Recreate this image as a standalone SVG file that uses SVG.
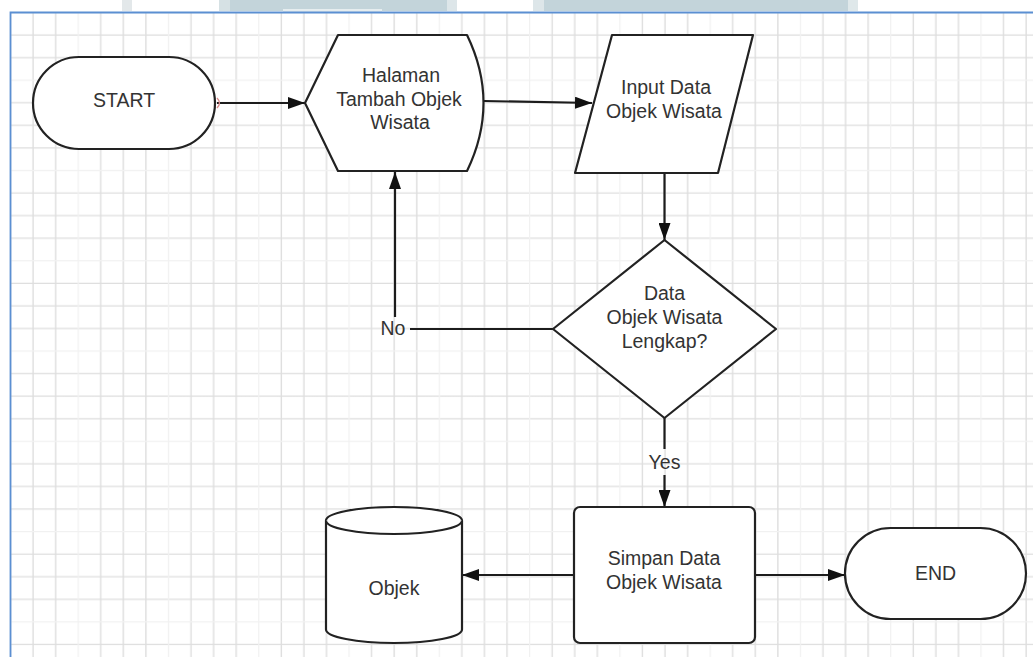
<svg xmlns="http://www.w3.org/2000/svg" width="1033" height="657" viewBox="0 0 1033 657">
  <defs>
    <style>
      .shape { fill: #ffffff; stroke: #222222; stroke-width: 2.2; stroke-linejoin: round; }
      .edge { fill: none; stroke: #1c1c1c; stroke-width: 2.2; }
      .arrow { marker-end: url(#head); }
      .label { font-family: "Liberation Sans", Arial, sans-serif; font-size: 19.5px; fill: #333333; text-anchor: middle; }
      .band { stroke: none; }
    </style>
    <!-- canvas grid: three visible lines and one faint line per 4-cell tile -->
    <pattern id="grid" patternUnits="userSpaceOnUse" x="-0.785" y="1.215" width="90.28" height="90.28">
      <g stroke="#dedede" stroke-width="1.4">
        <line x1="11.285" y1="0" x2="11.285" y2="90.28"/>
        <line x1="33.855" y1="0" x2="33.855" y2="90.28"/>
        <line x1="56.425" y1="0" x2="56.425" y2="90.28"/>
        <line x1="0" y1="11.285" x2="90.28" y2="11.285"/>
        <line x1="0" y1="33.855" x2="90.28" y2="33.855"/>
        <line x1="0" y1="56.425" x2="90.28" y2="56.425"/>
      </g>
      <g stroke="#f1f1f1" stroke-width="1.2">
        <line x1="78.995" y1="0" x2="78.995" y2="90.28"/>
        <line x1="0" y1="78.995" x2="90.28" y2="78.995"/>
      </g>
    </pattern>
    <marker id="head" markerUnits="userSpaceOnUse" markerWidth="17" markerHeight="12" refX="17" refY="6" orient="auto">
      <path d="M0,0 L17,6 L0,12 Z" fill="#111111"/>
    </marker>
  </defs>

  <!-- page background and toolbar strip -->
  <rect x="0" y="0" width="1033" height="657" fill="#ffffff"/>
  <g id="toolbar">
    <rect class="band" x="122" y="0" width="10" height="11" fill="#e3e8ea"/>
    <rect class="band" x="219" y="0" width="11" height="11" fill="#d6e1e4"/>
    <rect class="band" x="230" y="0" width="217" height="11" fill="#c3d4da"/>
    <rect class="band" x="283" y="9" width="99" height="3" fill="#e6edef"/>
    <rect class="band" x="447" y="0" width="10" height="11" fill="#dde6e9"/>
    <rect class="band" x="533" y="0" width="11" height="11" fill="#dde6e9"/>
    <rect class="band" x="544" y="0" width="304" height="11" fill="#c3d4da"/>
    <rect class="band" x="848" y="0" width="10" height="11" fill="#dfe8ea"/>
  </g>

  <!-- drawing canvas -->
  <rect x="10.5" y="12.5" width="1023" height="645" fill="url(#grid)"/>
  <path d="M10.5,657 L10.5,12.5 L1033,12.5" fill="none" stroke="#5b8fd2" stroke-width="1.8"/>

  <!-- connectors -->
  <g id="connectors">
    <line class="edge arrow" x1="217" y1="103" x2="305" y2="103"/>
    <line class="edge arrow" x1="484" y1="101" x2="592" y2="103"/>
    <line class="edge arrow" x1="664.5" y1="173" x2="664.5" y2="240"/>
    <polyline class="edge" points="553,329 410,329"/>
    <line class="edge arrow" x1="395" y1="317" x2="395" y2="172"/>
    <line class="edge" x1="664.5" y1="418" x2="664.5" y2="449"/>
    <line class="edge arrow" x1="664.5" y1="475" x2="664.5" y2="507"/>
    <line class="edge arrow" x1="574" y1="575" x2="462" y2="575"/>
    <line class="edge arrow" x1="755" y1="575" x2="845" y2="575"/>
    <path d="M217,98 Q222,103 217,108" fill="none" stroke="#d98a8a" stroke-width="1.3"/>
    <text class="label" x="393" y="335">No</text>
    <text class="label" x="664.5" y="469">Yes</text>
  </g>

  <!-- nodes -->
  <g id="start">
    <rect class="shape" x="33" y="57" width="182" height="92" rx="46" ry="46"/>
    <text class="label" x="124" y="107">START</text>
  </g>

  <g id="halaman-tambah">
    <path class="shape" d="M305,103 L338,35 L467,35 Q500,103 467,171 L338,171 Z"/>
    <text class="label" x="401" y="82">Halaman</text>
    <text class="label" x="399" y="105.5">Tambah Objek</text>
    <text class="label" x="400" y="129">Wisata</text>
  </g>

  <g id="input-data">
    <path class="shape" d="M612,35 L753,35 L718,173 L575,173 Z"/>
    <text class="label" x="666" y="94">Input Data</text>
    <text class="label" x="664" y="118">Objek Wisata</text>
  </g>

  <g id="cek-lengkap">
    <path class="shape" d="M664.5,240 L776,329 L664.5,418 L553,329 Z"/>
    <text class="label" x="664.5" y="300">Data</text>
    <text class="label" x="664.5" y="324">Objek Wisata</text>
    <text class="label" x="664.5" y="348">Lengkap?</text>
  </g>

  <g id="simpan-data">
    <rect class="shape" x="574" y="507" width="181" height="136" rx="6" ry="6"/>
    <text class="label" x="664" y="565">Simpan Data</text>
    <text class="label" x="664" y="589">Objek Wisata</text>
  </g>

  <g id="objek-db">
    <path class="shape" d="M326,520.5 A68,13.5 0 0 1 462,520.5 L462,629.5 A68,13.5 0 0 1 326,629.5 Z"/>
    <path class="shape" d="M326,520.5 A68,13.5 0 0 0 462,520.5" fill="none"/>
    <text class="label" x="394" y="595">Objek</text>
  </g>

  <g id="end">
    <rect class="shape" x="845" y="528" width="181" height="91" rx="45.5" ry="45.5"/>
    <text class="label" x="935.5" y="580">END</text>
  </g>
</svg>
